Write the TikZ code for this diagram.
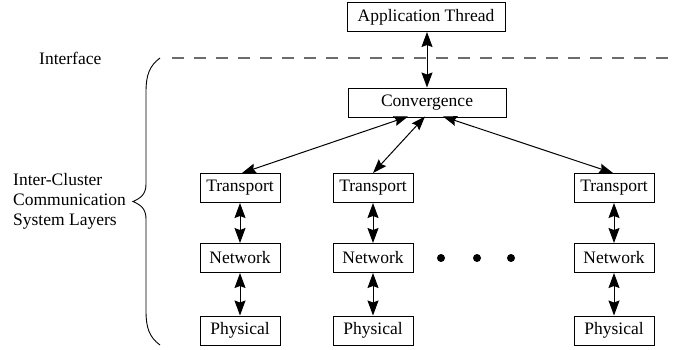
\documentclass[tikz,border=0pt]{standalone}
\usepackage{fontspec}
\setmainfont{Liberation Serif}
\usetikzlibrary{arrows.meta}
\begin{document}
\begin{tikzpicture}[x=1pt,y=-1pt,
  font=\fontsize{17.5}{20}\selectfont,
  box/.style={draw,line width=1pt,inner sep=0pt,minimum height=29pt},
  layer/.style={box,minimum width=80pt},
  wide/.style={box,minimum width=158pt},
  link/.style={line width=1pt,{Stealth[length=15pt,width=11pt,inset=2pt]}-{Stealth[length=15pt,width=11pt,inset=2pt]}},
  slink/.style={line width=1pt,{Stealth[length=14pt,width=10pt,inset=2pt]}-{Stealth[length=14pt,width=10pt,inset=2pt]}},
  dotmark/.style={fill=black,circle,inner sep=0pt,minimum size=8pt}]
\useasboundingbox (0,0) rectangle (676,349);
% boxes
\node[wide] (app) at (426,17) {Application Thread};
\node[wide] (conv) at (427,102.5) {Convergence};
\node[layer] (t1) at (240,188) {Transport};
\node[layer] (n1) at (240,258) {Network};
\node[layer] (p1) at (240,330.5) {Physical};
\node[layer] (t2) at (373,188) {Transport};
\node[layer] (n2) at (373,258) {Network};
\node[layer] (p2) at (373,330.5) {Physical};
\node[layer] (t3) at (614,188) {Transport};
\node[layer] (n3) at (614,258) {Network};
\node[layer] (p3) at (614,330.5) {Physical};
% dots
\node[dotmark] (d1) at (441,258) {};
\node[dotmark] (d2) at (477,258) {};
\node[dotmark] (d3) at (511,258) {};
% interface line
\coordinate (ifl) at (172,58);
\coordinate (ifr) at (676,58);
\draw[gray!85!black,line width=1.6pt,dash pattern=on 12pt off 10pt] (ifl) -- (ifr);
% labels
\node[anchor=west,inner sep=0pt] (iface) at (39,58) {Interface};
\node[anchor=west,align=left,inner sep=0pt] (icl) at (13,201) {Inter-Cluster\\Communication\\System Layers};
% brace
\draw[line width=0.9pt] (160,58) .. controls (149,66) and (146,76) .. (146,92)
  -- (146,184) .. controls (146,194) and (141,198) .. (133,201.5)
  .. controls (141,205) and (146,209) .. (146,219)
  -- (146,311) .. controls (146,327) and (149,337) .. (160,345);
% connectors
\draw[link] (app.south -| 427,0) -- (conv.north -| 427,0);
\draw[slink] ([xshift=2pt]t1.north) -- ([xshift=-19pt,yshift=1pt]conv.south);
\draw[slink] (t2.north) -- ([xshift=-2pt,yshift=1pt]conv.south);
\draw[slink] ([xshift=-1pt]t3.north) -- ([xshift=16pt,yshift=1pt]conv.south);
\foreach \i in {1,2,3}{
  \draw[link] (t\i.south) -- (n\i.north);
  \draw[link] (n\i.south) -- (p\i.north);
}
\end{tikzpicture}
\end{document}
